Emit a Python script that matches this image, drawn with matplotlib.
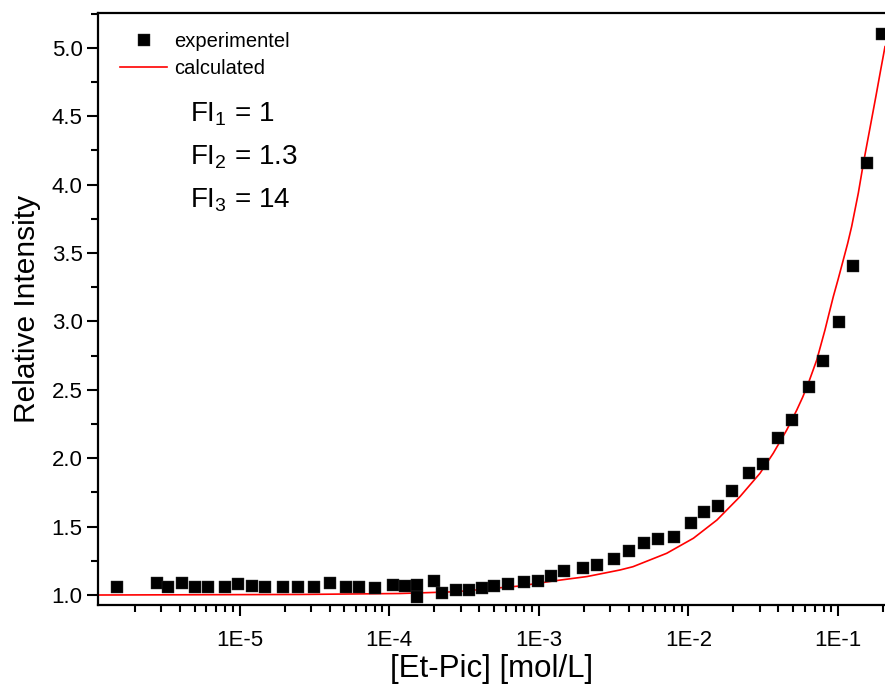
import matplotlib
matplotlib.use("Agg")
import matplotlib.pyplot as plt
from matplotlib.ticker import MultipleLocator, LogLocator, FixedFormatter, FixedLocator, NullFormatter

plt.rcParams['font.family'] = ['Liberation Sans', 'DejaVu Sans']
plt.rcParams['mathtext.fontset'] = 'custom'
plt.rcParams['mathtext.rm'] = 'Liberation Sans'
plt.rcParams['mathtext.it'] = 'Liberation Sans'

conc_exp = [1.51e-6, 2.79e-6, 3.32e-6, 4.10e-6, 5.03e-6, 6.15e-6, 7.99e-6, 9.75e-6,
            1.21e-5, 1.48e-5, 1.95e-5, 2.46e-5, 3.14e-5, 4.02e-5, 5.14e-5, 6.28e-5,
            8.04e-5, 1.06e-4, 1.27e-4, 1.53e-4, 1.53e-4, 1.99e-4, 2.25e-4, 2.79e-4,
            3.41e-4, 4.17e-4, 5.01e-4, 6.22e-4, 7.96e-4, 9.87e-4, 1.21e-3, 1.47e-3,
            1.97e-3, 2.45e-3, 3.18e-3, 4.01e-3, 5.05e-3, 6.26e-3, 8.02e-3, 1.04e-2,
            1.27e-2, 1.58e-2, 1.96e-2, 2.54e-2, 3.15e-2, 3.97e-2, 4.93e-2, 6.36e-2,
            7.88e-2, 0.1016, 0.1265, 0.1555, 0.196]
intensity_exp = [1.056, 1.091, 1.058, 1.091, 1.058, 1.058, 1.058, 1.080,
                 1.066, 1.058, 1.058, 1.058, 1.058, 1.088, 1.058, 1.058,
                 1.051, 1.073, 1.066, 1.073, 0.985, 1.102, 1.018, 1.037,
                 1.040, 1.051, 1.066, 1.080, 1.095, 1.102, 1.139, 1.175,
                 1.197, 1.219, 1.263, 1.322, 1.380, 1.409, 1.424, 1.526,
                 1.607, 1.651, 1.760, 1.892, 1.958, 2.148, 2.279, 2.519,
                 2.711, 2.997, 3.407, 4.160, 5.099]

# calculated curve
conc_calc = [1.13e-6, 2.53e-5, 1.18e-4, 2.80e-4, 7.48e-4, 1.24e-3, 2.10e-3,
             3.49e-3, 4.26e-3, 7.16e-3, 1.08e-2, 1.55e-2, 2.21e-2, 3.01e-2,
             3.69e-2, 4.54e-2, 5.30e-2, 5.80e-2, 6.33e-2, 7.21e-2, 8.18e-2,
             8.70e-2, 9.30e-2, 0.1003, 0.1085, 0.1160, 0.1234, 0.1367, 0.1480,
             0.1640, 0.1795, 0.1930, 0.2061]
intensity_calc = [1.000, 1.004, 1.011, 1.024, 1.066, 1.102, 1.135,
                  1.183, 1.207, 1.305, 1.415, 1.548, 1.719, 1.890,
                  2.036, 2.206, 2.352, 2.445, 2.547, 2.718, 2.937,
                  3.055, 3.181, 3.310, 3.450, 3.570, 3.694, 3.938, 4.160,
                  4.420, 4.650, 4.840, 5.008]

x_ticks = [1e-5, 1e-4, 1e-3, 1e-2, 1e-1]
x_tick_labels = ["1E-5", "1E-4", "1E-3", "1E-2", "1E-1"]

fig = plt.figure(figsize=(8.85, 6.86), dpi=100)
ax = fig.add_axes([98 / 885, 1 - 605 / 686, 1 - 98 / 885, (605 - 13) / 686])

ax.plot(conc_exp, intensity_exp, 's', color='black', markersize=9,
        markeredgewidth=0.3, markeredgecolor='#333333', label='experimentel', zorder=3)
ax.plot(conc_calc, intensity_calc, '-', color='#ff0000', linewidth=1.2,
        label='calculated', zorder=2)

ax.set_xscale('log')
ax.set_xlim(1.13e-6, 0.2061)
ax.set_ylim(0.927, 5.254)

ax.xaxis.set_major_locator(FixedLocator(x_ticks))
ax.xaxis.set_major_formatter(FixedFormatter(x_tick_labels))
ax.xaxis.set_minor_locator(LogLocator(base=10, subs=range(2, 10), numticks=20))
ax.xaxis.set_minor_formatter(NullFormatter())
ax.yaxis.set_major_locator(MultipleLocator(0.5))
ax.yaxis.set_minor_locator(MultipleLocator(0.25))
ax.yaxis.set_major_formatter(plt.FormatStrFormatter('%.1f'))

ax.tick_params(which='major', direction='out', length=8, width=1.5, labelsize=16)
ax.tick_params(which='minor', direction='out', length=5, width=1.5)
ax.tick_params(axis='x', which='major', pad=10)
ax.tick_params(axis='y', which='major', pad=3)

for side in ['left', 'bottom', 'top']:
    ax.spines[side].set_linewidth(1.6)
ax.spines['right'].set_visible(False)

ax.set_xlabel('[Et-Pic] [mol/L]', fontsize=22.5, labelpad=2)
ax.set_ylabel('Relative Intensity', fontsize=21.5, labelpad=8)

ax.legend(loc='upper left', bbox_to_anchor=(0.028, 0.968), frameon=False,
          fontsize=14.5, handlelength=2.35, handletextpad=0.35,
          labelspacing=0.38, borderpad=0, borderaxespad=0)

ax.text(0.117, 0.829, r'FI$_{1}$ = 1', transform=ax.transAxes, fontsize=20, va='center')
ax.text(0.117, 0.756, r'FI$_{2}$ = 1.3', transform=ax.transAxes, fontsize=20, va='center')
ax.text(0.117, 0.683, r'FI$_{3}$ = 14', transform=ax.transAxes, fontsize=20, va='center')

fig.savefig('out.png', dpi=100)
